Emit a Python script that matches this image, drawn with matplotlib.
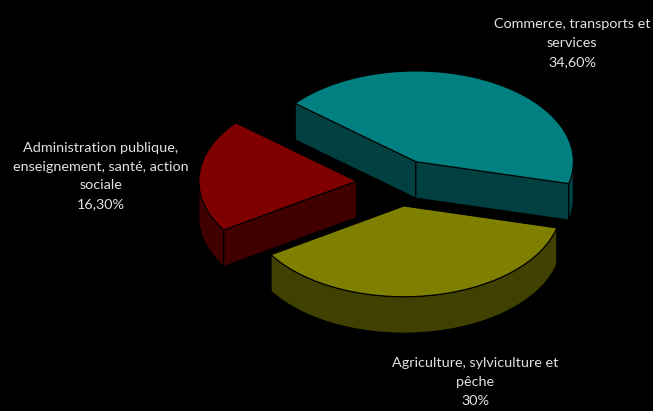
import numpy as np
import matplotlib
matplotlib.use("Agg")
import matplotlib.pyplot as plt
from matplotlib.patches import Polygon

# Data
values = [34.60, 30.0, 16.30]
labels = ["Commerce, transports et\nservices\n34,60%",
          "Agriculture, sylviculture et\npêche\n30%",
          "Administration publique,\nenseignement, santé, action\nsociale\n16,30%"]
top_colors = ["#008080", "#808000", "#800000"]
side_colors = ["#004040", "#404000", "#400000"]
label_pos = [(572, 43), (475, 382), (101, 176)]

# Pie projection (pixels)
cx, cy = 397.3, 182.7
rx, ry = 157.5, 90.7
depth = 36.5
explode = 0.26
start_angle = 140.0

plt.rcParams['font.family'] = ['Lato', 'DejaVu Sans']
fig = plt.figure(figsize=(6.53, 4.11), dpi=100, facecolor="black")
ax = fig.add_axes([0, 0, 1, 1])
ax.set_xlim(0, 653)
ax.set_ylim(411, 0)
ax.axis("off")

def pt(c, t, dz=0.0):
    t = np.radians(t)
    return np.column_stack([c[0] + rx*np.cos(t), c[1] - ry*np.sin(t) + dz])

total = sum(values)
a0 = start_angle
lw = 0.8
for v, tc, sc in zip(values, top_colors, side_colors):
    a1 = a0 - 360.0*v/total
    mid = np.radians((a0 + a1)/2)
    c = (cx + explode*rx*np.cos(mid), cy - explode*ry*np.sin(mid))
    ts = np.linspace(a0, a1, 120)
    rim = pt(c, ts)
    ctr = np.array([c])
    # radial walls, farther edge first so the nearer wall hides it
    for edge in sorted((rim[0], rim[-1]), key=lambda p: p[1]):
        wall = np.array([ctr[0], edge, edge + [0, depth], ctr[0] + [0, depth]])
        ax.add_patch(Polygon(wall, closed=True, fc=sc, ec="black", lw=lw, zorder=2))
    # outer wall: only the front half of the rim (sin t < 0)
    front = ts[np.sin(np.radians(ts)) <= 0]
    if len(front) > 1:
        arc = pt(c, front)
        poly = np.vstack([arc, arc[::-1] + [0, depth]])
        ax.add_patch(Polygon(poly, closed=True, fc=sc, ec="black", lw=lw, zorder=3))
    # top face
    ax.add_patch(Polygon(np.vstack([ctr, rim]), closed=True, fc=tc, ec="black", lw=lw, zorder=4))
    a0 = a1

for lab, (x, y) in zip(labels, label_pos):
    ax.text(x, y, lab, color="#e2e2e2", fontsize=10.4, ha="center", va="center",
            linespacing=1.69, zorder=5)

fig.savefig("out.png", dpi=100, facecolor="black")
